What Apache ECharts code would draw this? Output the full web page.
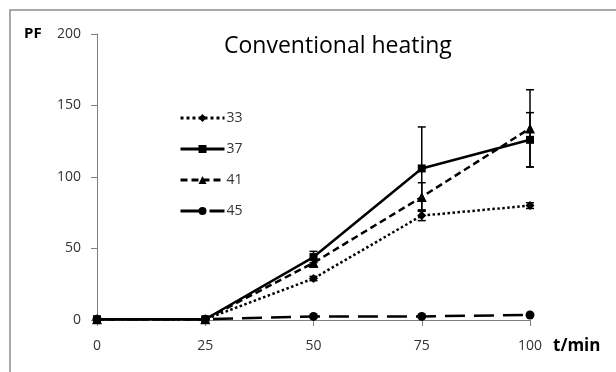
<!DOCTYPE html>
<html>
<head>
<meta charset="utf-8">
<script src="https://cdn.jsdelivr.net/npm/echarts@6/dist/echarts.min.js"></script>
<style>
	html, body { margin:0; padding:0; background:#fff; }
	#chart { width:616px; height:372px; }
</style>
</head>
<body>
<div id="chart"></div>
<script>
// 时间 (min)
var mins = [0, 25, 50, 75, 100];
// PF values per series
var pf33 = [0.5, 0.5, 29, 73, 80];
var pf37 = [0.5, 0.5, 44, 106, 126];
var pf41 = [0.5, 0.5, 40, 86, 134];
var pf45 = [0.5, 0.5, 2.5, 2.5, 3.5];
// error bars (+/-)
var err33 = [0, 0, 1.5, 3.5, 2];
var err37 = [0, 0, 4, 29, 19];
var err41 = [0, 0, 3, 10, 27];
var yTicks = [0, 50, 100, 150, 200];
var xTicks = [0, 25, 50, 75, 100];

var font = 'Open Sans';

function pairs(vals) {
	var out = [];
	for (var i = 0; i < mins.length; i++) out.push([mins[i], vals[i]]);
	return out;
}
function errData(vals, errs) {
	var out = [];
	for (var i = 0; i < mins.length; i++) {
		if (errs[i] > 0) out.push([mins[i], vals[i] - errs[i], vals[i] + errs[i]]);
	}
	return out;
}
function errSeries(vals, errs) {
	return {
		type: 'custom',
		silent: true,
		z: 1,
		data: errData(vals, errs),
		renderItem: function (params, api) {
			var lo = api.coord([api.value(0), api.value(1)]);
			var hi = api.coord([api.value(0), api.value(2)]);
			var w = 4;
			var st = { stroke: '#000', lineWidth: 1.5 };
			return {
				type: 'group',
				children: [
					{ type: 'line', shape: { x1: lo[0], y1: lo[1], x2: hi[0], y2: hi[1] }, style: st },
					{ type: 'line', shape: { x1: lo[0] - w, y1: lo[1], x2: lo[0] + w, y2: lo[1] }, style: st },
					{ type: 'line', shape: { x1: hi[0] - w, y1: hi[1], x2: hi[0] + w, y2: hi[1] }, style: st }
				]
			};
		}
	};
}
function lineSeries(name, vals, dash, symbol, size) {
	return {
		name: name,
		type: 'line',
		data: pairs(vals),
		symbol: symbol,
		symbolSize: size,
		z: 3,
		itemStyle: { color: '#000' },
		lineStyle: { color: '#000', width: 2.5, type: dash }
	};
}

var myChart = echarts.init(document.getElementById('chart'));
var option = {
	animation: false,
	backgroundColor: '#fff',
	graphic: [{
		type: 'rect',
		shape: { x: 10, y: 10, width: 700, height: 500 },
		style: { fill: 'none', stroke: '#8c8c8c', lineWidth: 1.5 },
		silent: true
	}, {
		type: 'text', left: 24, top: 26,
		style: { text: 'PF', font: 'bold 15px "' + font + '"', fill: '#000' }
	}, {
		type: 'text', left: 553, top: 338,
		style: { text: 't/min', font: 'bold 17px "' + font + '"', fill: '#000' }
	}, {
		type: 'text', left: 224, top: 35,
		style: { text: 'Conventional heating', font: '23px "' + font + '"', fill: '#000' }
	}],
	legend: {
		orient: 'vertical',
		left: 174,
		top: 106,
		itemWidth: 44,
		itemHeight: 10,
		itemGap: 17,
		lineStyle: { width: 3 },
		textStyle: { fontFamily: font, fontSize: 14, color: '#333', padding: [0, 0, 0, -3] },
		data: ['33', '37', '41', '45']
	},
	grid: { left: 97, right: 86, top: 34, bottom: 52 },
	xAxis: {
		type: 'value',
		min: xTicks[0], max: xTicks[xTicks.length - 1], interval: 25,
		splitLine: { show: false },
		axisLine: { lineStyle: { color: '#7f7f7f', width: 1 } },
		axisTick: { show: true, length: 6, lineStyle: { color: '#7f7f7f' } },
		axisLabel: { fontFamily: font, fontSize: 14, color: '#333', margin: 19 }
	},
	yAxis: {
		type: 'value',
		min: yTicks[0], max: yTicks[yTicks.length - 1], interval: 50,
		splitLine: { show: false },
		axisLine: { show: true, lineStyle: { color: '#7f7f7f', width: 1 } },
		axisTick: { show: true, length: 6, lineStyle: { color: '#7f7f7f' } },
		axisLabel: { fontFamily: font, fontSize: 14, color: '#333', margin: 16 }
	},
	series: [
		lineSeries('33', pf33, 'dotted', 'diamond', 9),
		lineSeries('37', pf37, 'solid', 'rect', 8),
		lineSeries('41', pf41, [7, 4], 'triangle', 10),
		lineSeries('45', pf45, [20, 9], 'circle', 9),
		errSeries(pf33, err33),
		errSeries(pf37, err37),
		errSeries(pf41, err41)
	]
};
myChart.setOption(option);
</script>
</body>
</html>
